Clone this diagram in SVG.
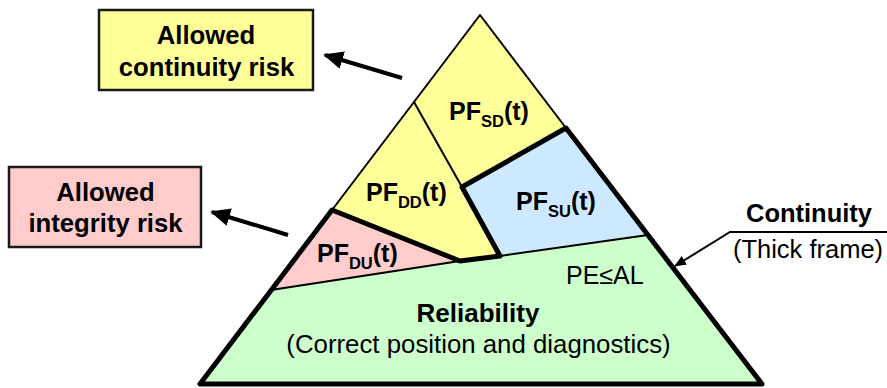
<svg xmlns="http://www.w3.org/2000/svg" width="887" height="388" viewBox="0 0 887 388">
<style>
.b{font-family:"Liberation Sans",Arial,sans-serif;font-weight:bold;fill:#000}
.r{font-family:"Liberation Sans",Arial,sans-serif;fill:#000}
.thin{fill:none;stroke:#000;stroke-width:2;stroke-linejoin:round}
.thick{fill:none;stroke:#000;stroke-width:5;stroke-linejoin:round;stroke-linecap:round}
.box{stroke:#1a1a1a;stroke-width:2.5}
.arr{stroke:#000;stroke-width:4;fill:none}
</style>
<defs>
<marker id="ah" markerUnits="userSpaceOnUse" markerWidth="20" markerHeight="18" refX="18" refY="9" orient="auto">
<path d="M0,0 L20,9 L0,18 Z" fill="#000"/>
</marker>
<marker id="ahs" markerUnits="userSpaceOnUse" markerWidth="12" markerHeight="10" refX="11" refY="5" orient="auto">
<path d="M0,0 L12,5 L0,10 Z" fill="#000"/>
</marker>
</defs>
<g id="pyramid">
<g id="reliability">
<polygon points="271,290 460,261 500,256 648,235 762,384 200,384" fill="#CCFFCC"/>
<text class="b" x="478" y="322" font-size="26" text-anchor="middle">Reliability</text>
<text class="r" x="478.5" y="353" font-size="25.8" text-anchor="middle">(Correct position and diagnostics)</text>
<text class="r" x="566" y="284" font-size="25">PE≤AL</text>
</g>
<g id="pf-sd">
<polygon points="480,15 566,128 462,187 414,102" fill="#FFFF99"/>
<text class="b" x="449" y="120" font-size="25">PF<tspan font-size="16.5" dy="7">SD</tspan><tspan dy="-7">(t)</tspan></text>
</g>
<g id="pf-dd">
<polygon points="414,102 462,187 500,256 460,261 332,210" fill="#FFFF99"/>
<text class="b" x="366" y="201" font-size="25">PF<tspan font-size="16.5" dy="7">DD</tspan><tspan dy="-7">(t)</tspan></text>
</g>
<g id="pf-su">
<polygon points="462,187 566,128 648,235 500,256" fill="#CCE9FF"/>
<text class="b" x="516" y="210" font-size="25">PF<tspan font-size="16.5" dy="7">SU</tspan><tspan dy="-7">(t)</tspan></text>
</g>
<g id="pf-du">
<polygon points="332,210 460,261 271,290" fill="#FFCCCC"/>
<text class="b" x="317" y="262" font-size="25">PF<tspan font-size="16.5" dy="7">DU</tspan><tspan dy="-7">(t)</tspan></text>
</g>
<g id="frame">
<polyline class="thin" points="332,210 480,15 566,128"/>
<polyline class="thin" points="414,102 462,187"/>
<polyline class="thin" points="271,290 460,261"/>
<polyline class="thin" points="500,256 648,235" stroke-width="2.5"/>
<polygon class="thick" points="332,210 200,384 762,384 566,128 462,187 500,256 460,261"/>
</g>
</g>
<g id="box-continuity">
<rect class="box" x="99" y="10" width="214" height="80" fill="#FFFF99"/>
<text class="b" x="206" y="44" font-size="25.7" text-anchor="middle">Allowed</text>
<text class="b" x="206.5" y="76" font-size="25.7" text-anchor="middle">continuity risk</text>
</g>
<g id="box-integrity">
<rect class="box" x="9" y="167" width="192" height="80" fill="#FFCCCC"/>
<text class="b" x="105.5" y="201" font-size="25.7" text-anchor="middle">Allowed</text>
<text class="b" x="105.5" y="232" font-size="25.7" text-anchor="middle">integrity risk</text>
</g>
<g id="label-continuity">
<text class="b" x="809" y="222" font-size="25.5" text-anchor="middle">Continuity</text>
<text class="r" x="808" y="258" font-size="25.5" text-anchor="middle">(Thick frame)</text>
</g>
<g id="connectors">
<line class="arr" x1="402" y1="78" x2="325" y2="55" marker-end="url(#ah)"/>
<line class="arr" x1="288" y1="235" x2="212" y2="212" marker-end="url(#ah)"/>
<polyline points="887,232 730,232 675,266" fill="none" stroke="#000" stroke-width="2" marker-end="url(#ahs)"/>
</g>
</svg>
